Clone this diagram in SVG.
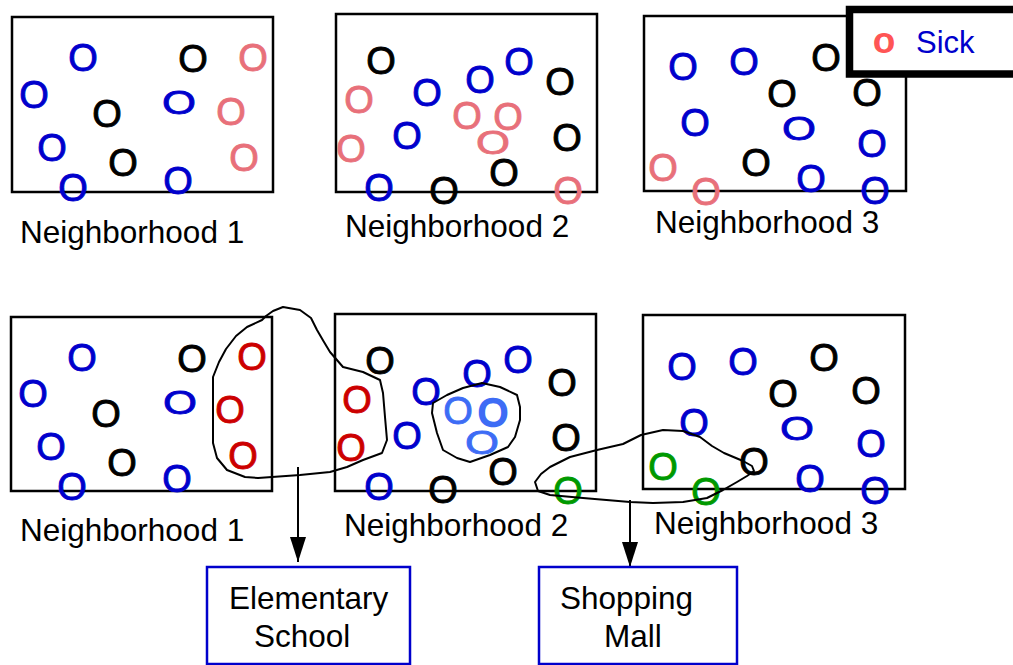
<svg xmlns="http://www.w3.org/2000/svg" width="1013" height="665" viewBox="0 0 1013 665">
  <style>
    .box { fill: none; stroke: #000; stroke-width: 2.5; }
    .lbl { font-family: "Liberation Sans", Arial, sans-serif; font-size: 31.5px; fill: #000; }
    .o { font-family: "Liberation Sans", Arial, sans-serif; font-size: 38px; text-anchor: middle; stroke-width: 0.9; }
    .b { fill: #0000cc; stroke: #0000cc; }
    .k { fill: #000; stroke: #000; }
    .p { fill: #e8707a; stroke: #e8707a; }
    .r { fill: #cc0000; stroke: #cc0000; }
    .g { fill: #009900; stroke: #009900; }
    .lb { fill: #3d6cf5; stroke: #3d6cf5; }
    .blob { fill: none; stroke: #000; stroke-width: 2; stroke-linejoin: round; }
    .arrow { fill: none; stroke: #000; stroke-width: 2; }
    .place { fill: #fff; stroke: #0000cc; stroke-width: 2.5; }
    .ptxt { font-family: "Liberation Sans", Arial, sans-serif; font-size: 31.5px; fill: #000; }
  </style>
  <defs>
    <marker id="head" markerUnits="userSpaceOnUse" markerWidth="26" markerHeight="16" refX="25" refY="8" viewBox="0 0 26 16" orient="auto">
      <path d="M0,0 L25,8 L0,16 Z" fill="#000"/>
    </marker>
  </defs>
  <rect width="1013" height="665" fill="#fff"/>

  <!-- top row: before the gatherings -->
  <g id="n1-top">
    <rect class="box" x="12" y="17" width="261" height="175"/>
    <text class="o b" x="83" y="71">O</text>
    <text class="o k" x="193" y="72">O</text>
    <text class="o p" x="253" y="71">O</text>
    <text class="o b" x="34" y="108">O</text>
    <text class="o k" x="107" y="127">O</text>
    <text class="o b" x="0" y="14" transform="translate(179 102) scale(1.15 0.85)">O</text>
    <text class="o p" x="231" y="125">O</text>
    <text class="o b" x="52" y="161">O</text>
    <text class="o k" x="123" y="176">O</text>
    <text class="o p" x="244" y="171">O</text>
    <text class="o b" x="73" y="201">O</text>
    <text class="o b" x="178" y="194">O</text>
    <text class="lbl" x="20" y="243">Neighborhood 1</text>
  </g>

  <g id="n2-top">
    <rect class="box" x="336" y="14" width="261" height="178"/>
    <text class="o k" x="381" y="74">O</text>
    <text class="o p" x="359" y="113">O</text>
    <text class="o b" x="427" y="106">O</text>
    <text class="o b" x="480" y="93">O</text>
    <text class="o b" x="519" y="75">O</text>
    <text class="o k" x="560" y="95">O</text>
    <text class="o p" x="467" y="129">O</text>
    <text class="o p" x="508" y="130">O</text>
    <text class="o b" x="407" y="149">O</text>
    <text class="o p" x="351" y="162">O</text>
    <text class="o p" x="0" y="14" transform="translate(493 142) scale(1.15 0.85)">O</text>
    <text class="o k" x="567" y="151">O</text>
    <text class="o k" x="504" y="186">O</text>
    <text class="o b" x="379" y="201">O</text>
    <text class="o k" x="444" y="204">O</text>
    <text class="o p" x="568" y="204">O</text>
    <text class="lbl" x="345" y="237">Neighborhood 2</text>
  </g>

  <g id="n3-top">
    <rect class="box" x="644" y="16" width="262" height="175"/>
    <text class="o b" x="683" y="80">O</text>
    <text class="o b" x="744" y="75">O</text>
    <text class="o k" x="826" y="71">O</text>
    <text class="o k" x="782" y="107">O</text>
    <text class="o k" x="867" y="106">O</text>
    <text class="o b" x="695" y="136">O</text>
    <text class="o b" x="0" y="14" transform="translate(799 128) scale(1.15 0.85)">O</text>
    <text class="o b" x="872" y="157">O</text>
    <text class="o p" x="663" y="181">O</text>
    <text class="o k" x="756" y="176">O</text>
    <text class="o b" x="811" y="192">O</text>
    <text class="o p" x="706" y="205">O</text>
    <text class="o b" x="875" y="204">O</text>
    <text class="lbl" x="655" y="233">Neighborhood 3</text>
  </g>

  <!-- key -->
  <g id="legend">
    <rect x="849.5" y="9.5" width="200" height="64.5" fill="#fff" stroke="#000" stroke-width="7.5"/>
    <text x="884" y="53" text-anchor="middle" font-family="Liberation Sans, Arial, sans-serif" font-size="37" font-weight="bold" fill="#ff5555">o</text>
    <text x="916" y="53" font-family="Liberation Sans, Arial, sans-serif" font-size="31" fill="#0000cc">Sick</text>
  </g>

  <!-- bottom row: after the gatherings -->
  <g id="n1-bottom">
    <rect class="box" x="11" y="317" width="261" height="174"/>
    <text class="o b" x="82" y="371">O</text>
    <text class="o k" x="192" y="372">O</text>
    <text class="o r" x="252" y="370">O</text>
    <text class="o b" x="33" y="407">O</text>
    <text class="o k" x="106" y="427">O</text>
    <text class="o b" x="0" y="14" transform="translate(180 402) scale(1.15 0.85)">O</text>
    <text class="o r" x="230" y="423">O</text>
    <text class="o b" x="51" y="460">O</text>
    <text class="o k" x="122" y="476">O</text>
    <text class="o r" x="243" y="469">O</text>
    <text class="o b" x="72" y="500">O</text>
    <text class="o b" x="177" y="492">O</text>
    <text class="lbl" x="20" y="541">Neighborhood 1</text>
  </g>

  <g id="n2-bottom">
    <rect class="box" x="335" y="314" width="261" height="177"/>
    <text class="o k" x="380" y="374">O</text>
    <text class="o r" x="357" y="413">O</text>
    <text class="o b" x="426" y="405">O</text>
    <text class="o b" x="477" y="387">O</text>
    <text class="o b" x="518" y="373">O</text>
    <text class="o k" x="562" y="396">O</text>
    <text class="o lb" x="458" y="424">O</text>
    <text class="o lb" x="493" y="426" style="stroke-width:2.6">O</text>
    <text class="o lb" x="0" y="14" transform="translate(482 442) scale(1.15 0.85)">O</text>
    <text class="o b" x="407" y="449">O</text>
    <text class="o r" x="351" y="461">O</text>
    <text class="o k" x="566" y="451">O</text>
    <text class="o k" x="503" y="485">O</text>
    <text class="o b" x="379" y="500">O</text>
    <text class="o k" x="443" y="503">O</text>
    <text class="o g" x="568" y="504">O</text>
    <text class="lbl" x="344" y="536">Neighborhood 2</text>
  </g>

  <g id="n3-bottom">
    <rect class="box" x="643" y="315" width="262" height="174"/>
    <text class="o b" x="682" y="380">O</text>
    <text class="o b" x="743" y="375">O</text>
    <text class="o k" x="824" y="371">O</text>
    <text class="o k" x="783" y="407">O</text>
    <text class="o k" x="866" y="404">O</text>
    <text class="o b" x="694" y="436">O</text>
    <text class="o b" x="0" y="14" transform="translate(797 428) scale(1.15 0.85)">O</text>
    <text class="o b" x="871" y="457">O</text>
    <text class="o g" x="663" y="480">O</text>
    <text class="o k" x="754" y="475">O</text>
    <text class="o b" x="810" y="492">O</text>
    <text class="o g" x="706" y="505">O</text>
    <text class="o b" x="875" y="504">O</text>
    <text class="lbl" x="654" y="534">Neighborhood 3</text>
  </g>

  <!-- gathering outlines and flows to the shared places -->
  <g id="connectors">
    <path id="school-cluster" class="blob" d="M213,377 L213,410 L213,443 L217,458 L227,470 L245,477 L258,478 L300,475 L330,472 L347,467 L363,460 L382,453 L387,440 L385,417 L383,393 L380,380 L363,372 L343,367 L330,352 L324,342 L317,330 L311,318 L300,310 L283,307 L273,311 L266,316 L262,320 L247,327 L236,336 L226,349 L219,362 Z"/>
    <path id="home-cluster" class="blob" d="M432,413 L433,403 L447,395 L463,388 L482,383 L500,387 L517,395 L520,407 L520,420 L515,437 L508,447 L490,455 L470,462 L457,458 L443,450 L437,433 Z"/>
    <path id="mall-cluster" class="blob" d="M535,482 L541,474 L550,467 L570,457 L597,450 L623,444 L641,435 L663,430 L683,431 L700,437 L712,446 L724,453 L743,461 L752,466 L754,471 L747,476 L737,482 L723,490 L707,498 L683,502 L653,503 L630,502 L583,498 L550,495 L538,491 Z"/>
    <line class="arrow" x1="298" y1="467" x2="298" y2="562" marker-end="url(#head)"/>
    <line class="arrow" x1="630" y1="500" x2="630" y2="567" marker-end="url(#head)"/>
  </g>

  <g id="school">
    <rect class="place" x="207" y="567" width="203" height="97"/>
    <text class="ptxt" x="229" y="609">Elementary</text>
    <text class="ptxt" x="254" y="647">School</text>
  </g>

  <g id="mall">
    <rect class="place" x="539" y="567" width="198" height="97"/>
    <text class="ptxt" x="560" y="609">Shopping</text>
    <text class="ptxt" x="604" y="647">Mall</text>
  </g>
</svg>
